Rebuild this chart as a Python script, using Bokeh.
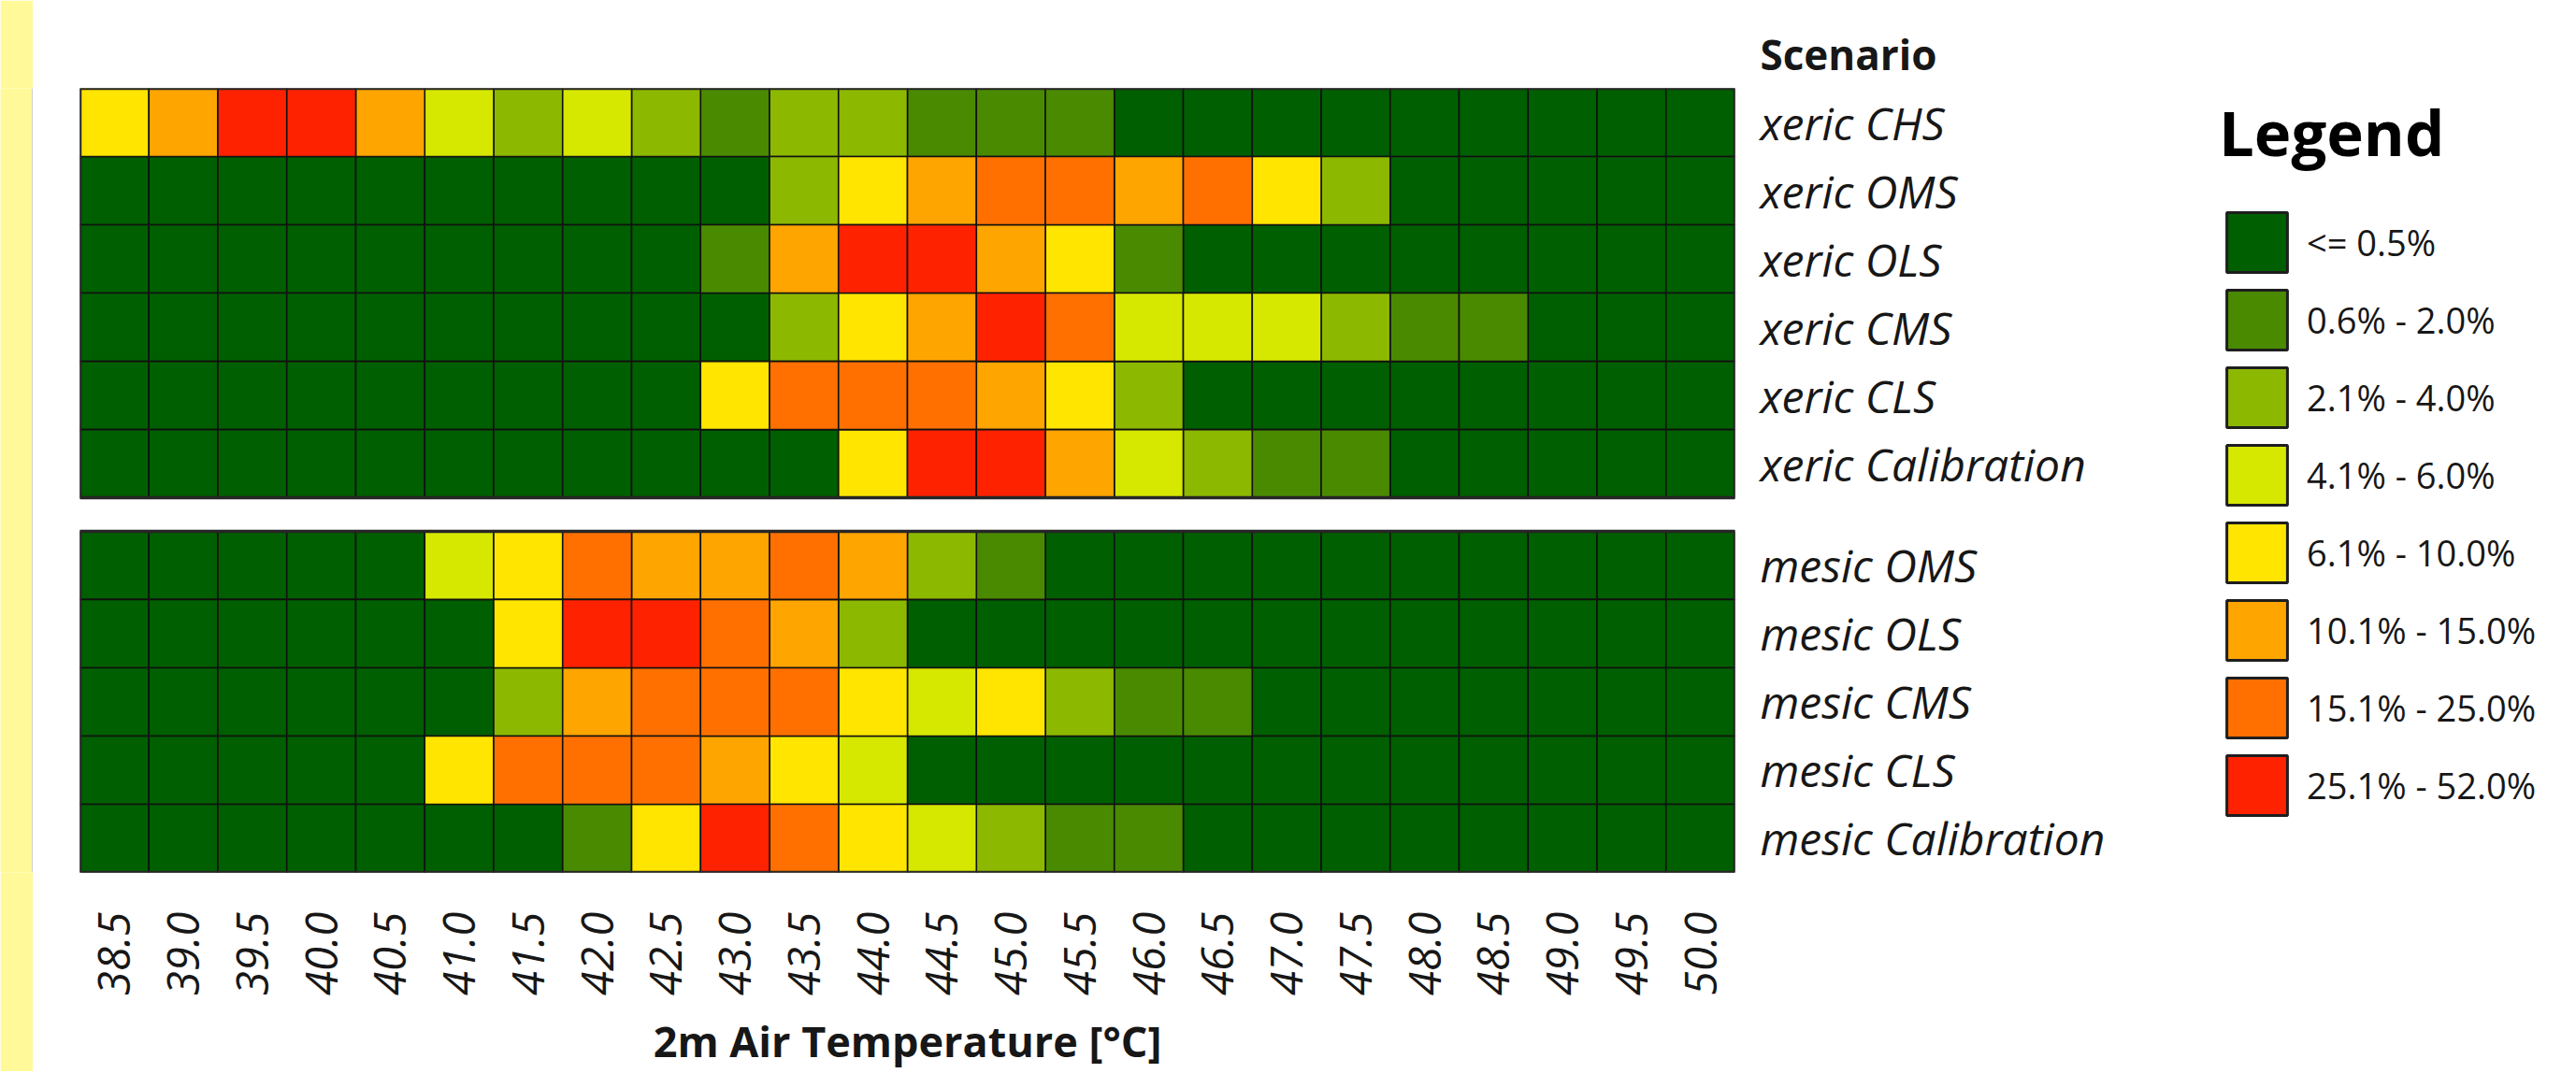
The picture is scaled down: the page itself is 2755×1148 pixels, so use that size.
import numpy as np
from bokeh.plotting import figure
from bokeh.models import (FactorRange, ColumnDataSource, Legend, LegendItem,
                          Span, Range1d, Title, FixedTicker)
from bokeh.layouts import row
from bokeh.embed import file_html
from bokeh.resources import INLINE

# ---------------- data ----------------
temps = ["38.5", "39.0", "39.5", "40.0", "40.5", "41.0", "41.5", "42.0", "42.5",
         "43.0", "43.5", "44.0", "44.5", "45.0", "45.5", "46.0", "46.5", "47.0",
         "47.5", "48.0", "48.5", "49.0", "49.5", "50.0"]

xeric_rows = ["xeric CHS", "xeric OMS", "xeric OLS", "xeric CMS", "xeric CLS",
              "xeric Calibration"]
mesic_rows = ["mesic OMS", "mesic OLS", "mesic CMS", "mesic CLS", "mesic Calibration"]

bins = ["<= 0.5%", "0.6% - 2.0%", "2.1% - 4.0%", "4.1% - 6.0%", "6.1% - 10.0%",
        "10.1% - 15.0%", "15.1% - 25.0%", "25.1% - 52.0%"]
bin_colors = ["#005f00", "#4a8a00", "#8db800", "#d6e800", "#ffe500", "#ffa500",
              "#ff7000", "#ff2200"]

# class index (into bins) per temperature column
xeric_CHS = [4, 5, 7, 7, 5, 3, 2, 3, 2, 1, 2, 2, 1, 1, 1, 0, 0, 0, 0, 0, 0, 0, 0, 0]
xeric_OMS = [0, 0, 0, 0, 0, 0, 0, 0, 0, 0, 2, 4, 5, 6, 6, 5, 6, 4, 2, 0, 0, 0, 0, 0]
xeric_OLS = [0, 0, 0, 0, 0, 0, 0, 0, 0, 1, 5, 7, 7, 5, 4, 1, 0, 0, 0, 0, 0, 0, 0, 0]
xeric_CMS = [0, 0, 0, 0, 0, 0, 0, 0, 0, 0, 2, 4, 5, 7, 6, 3, 3, 3, 2, 1, 1, 0, 0, 0]
xeric_CLS = [0, 0, 0, 0, 0, 0, 0, 0, 0, 4, 6, 6, 6, 5, 4, 2, 0, 0, 0, 0, 0, 0, 0, 0]
xeric_Cal = [0, 0, 0, 0, 0, 0, 0, 0, 0, 0, 0, 4, 7, 7, 5, 3, 2, 1, 1, 0, 0, 0, 0, 0]
mesic_OMS = [0, 0, 0, 0, 0, 3, 4, 6, 5, 5, 6, 5, 2, 1, 0, 0, 0, 0, 0, 0, 0, 0, 0, 0]
mesic_OLS = [0, 0, 0, 0, 0, 0, 4, 7, 7, 6, 5, 2, 0, 0, 0, 0, 0, 0, 0, 0, 0, 0, 0, 0]
mesic_CMS = [0, 0, 0, 0, 0, 0, 2, 5, 6, 6, 6, 4, 3, 4, 2, 1, 1, 0, 0, 0, 0, 0, 0, 0]
mesic_CLS = [0, 0, 0, 0, 0, 4, 6, 6, 6, 5, 4, 3, 0, 0, 0, 0, 0, 0, 0, 0, 0, 0, 0, 0]
mesic_Cal = [0, 0, 0, 0, 0, 0, 0, 1, 4, 7, 6, 4, 3, 2, 1, 1, 0, 0, 0, 0, 0, 0, 0, 0]

xeric_data = [xeric_CHS, xeric_OMS, xeric_OLS, xeric_CMS, xeric_CLS, xeric_Cal]
mesic_data = [mesic_OMS, mesic_OLS, mesic_CMS, mesic_CLS, mesic_Cal]

FONT = "Open Sans"
TXT = "#171717"
H = 1146
GAP = 0.49  # gap between the two panels, in row units

# ---------------- row positions (numeric y scale) ----------------
n_m = len(mesic_rows)
n_x = len(xeric_rows)
mesic_y = [n_m - 0.5 - i for i in range(n_m)]
xeric_y = [n_m + GAP + n_x - 0.5 - j for j in range(n_x)]
y_top = n_m + GAP + n_x

x_range = FactorRange(factors=temps, factor_padding=0, range_padding=0)
y_range = Range1d(0, y_top)

p = figure(width=2300, height=H, x_range=x_range, y_range=y_range,
           y_axis_location="right", toolbar_location=None, output_backend="svg",
           min_border_left=50, min_border_top=94, min_border_right=480,
           min_border_bottom=H - 940, outline_line_color=None,
           background_fill_color="white", border_fill_color="white")
p.grid.visible = False

# cells grouped by class
cells = {k: {"x": [], "y": []} for k in range(len(bins))}
for ys, data in ((xeric_y, xeric_data), (mesic_y, mesic_data)):
    for yv, vals in zip(ys, data):
        for t, v in zip(temps, vals):
            cells[v]["x"].append(t)
            cells[v]["y"].append(yv)

for k in range(len(bins)):
    p.rect(x="x", y="y", width=1, height=1, source=ColumnDataSource(cells[k]),
           fill_color=bin_colors[k], line_color="#111111", line_width=1.6)

# panel outlines
outline = ColumnDataSource(dict(
    left=[(temps[0], -0.5), (temps[0], -0.5)],
    right=[(temps[-1], 0.5), (temps[-1], 0.5)],
    bottom=[xeric_y[-1] - 0.5, mesic_y[-1] - 0.5],
    top=[xeric_y[0] + 0.5, mesic_y[0] + 0.5],
))
p.quad(left="left", right="right", bottom="bottom", top="top", source=outline,
       fill_color=None, line_color="#262626", line_width=3.5)

# x axis
xa = p.xaxis[0]
xa.major_label_orientation = 3.14159265 / 2
xa.major_label_text_font = FONT
xa.major_label_text_font_style = "italic"
xa.major_label_text_font_size = "47px"
xa.major_label_text_color = TXT
xa.major_label_standoff = 36
xa.axis_line_color = None
xa.major_tick_line_color = None
xa.minor_tick_line_color = None
xa.axis_label = "2m Air Temperature [°C]"
xa.axis_label_text_font = FONT
xa.axis_label_text_font_style = "bold"
xa.axis_label_text_font_size = "45px"
xa.axis_label_text_color = TXT
xa.axis_label_standoff = 15

# y axis (right) with scenario names
ya = p.yaxis[0]
ya.ticker = FixedTicker(ticks=xeric_y + mesic_y)
ya.major_label_overrides = dict(zip(xeric_y + mesic_y, xeric_rows + mesic_rows))
ya.major_label_text_font = FONT
ya.major_label_text_font_style = "italic"
ya.major_label_text_font_size = "48px"
ya.major_label_text_color = TXT
ya.major_label_standoff = 21
ya.axis_line_color = None
ya.major_tick_line_color = None
ya.minor_tick_line_color = None

# header above the row labels
p.add_layout(Title(text="Scenario", align="left", offset=1797, standoff=13,
                   text_font=FONT, text_font_style="bold",
                   text_font_size="44px", text_color=TXT), "above")

# ---------------- legend panel ----------------
LW = 2755 - 35 - 2300
lg = figure(width=LW, height=H, x_range=Range1d(0, 1), y_range=Range1d(0, 1),
            toolbar_location=None, output_backend="svg", min_border=0,
            x_axis_type=None, y_axis_type=None, outline_line_color=None,
            background_fill_color="white", border_fill_color="white")
lg.grid.visible = False
items = []
for k in range(len(bins)):
    # legend-only proxy (NaN position: never drawn in the panel itself)
    proxy = lg.rect(x=np.array([np.nan]), y=np.array([np.nan]), width=0, height=0,
                    fill_color=bin_colors[k], line_color="#1e1e1e", line_width=3)
    items.append(LegendItem(label=bins[k], renderers=[proxy]))

legend = Legend(items=items, location=(38, 53), title="Legend",
                title_text_font=FONT, title_text_font_style="bold",
                title_text_font_size="67px", title_text_color="#000000",
                title_standoff=32,
                label_text_font=FONT, label_text_font_size="38px",
                label_text_color=TXT, label_standoff=13,
                glyph_width=81, glyph_height=80, spacing=3, padding=0,
                margin=0, border_line_color=None, background_fill_alpha=0)
lg.add_layout(legend)

# left pale-yellow strip
strip = figure(width=35, height=H, x_range=Range1d(0, 1), y_range=Range1d(0, 1),
               toolbar_location=None, output_backend="svg", min_border=0,
               x_axis_type=None, y_axis_type=None,
               background_fill_color="#fff99a", border_fill_color="#fff99a",
               outline_line_color=None)
strip.grid.visible = False
strip.add_layout(Span(location=1, dimension="height", line_color="#cfcfcf",
                      line_width=3))

layout = row(strip, p, lg)
open("out.html", "w").write(file_html(layout, INLINE))
